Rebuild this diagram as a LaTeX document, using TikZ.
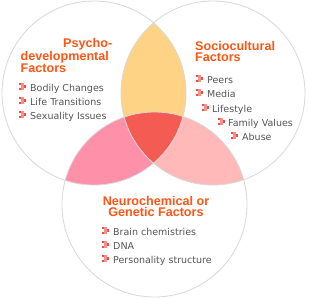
\documentclass[tikz,border=0pt]{standalone}
\usepackage{fontspec}
\setmainfont{Liberation Sans}
\newfontfamily\itemfont{DejaVu Sans}
\definecolor{orangec}{HTML}{FFD385}
\definecolor{pinkc}{HTML}{FF90A9}
\definecolor{salmonc}{HTML}{FFB9B8}
\definecolor{redc}{HTML}{F45B52}
\definecolor{ringc}{HTML}{D8D8D8}
\definecolor{titlec}{HTML}{FF5514}
\definecolor{itemc}{HTML}{555555}
\definecolor{buldark}{HTML}{EE4B45}
\definecolor{bullight}{HTML}{F8908B}
\begin{document}
\begin{tikzpicture}[x=1pt,y=-1pt,
  ttl/.style={anchor=base west,inner sep=0,text=titlec,font=\fontsize{12.6}{11.2}\selectfont\bfseries},
  itm/.style={anchor=base west,inner sep=0,text=itemc,font=\itemfont\fontsize{9.5}{11}\selectfont},
  ring/.style={draw=ringc,line width=0.8pt},
  pics/bul/.style={code={
    \fill[buldark] (0,-8) rectangle (2.33,-5.67);
    \fill[bullight] (2.33,-8) rectangle (4.67,-5.67);
    \fill[bullight] (2.33,-5.67) rectangle (4.67,-3.33);
    \fill[buldark] (4.67,-5.67) rectangle (7,-3.33);
    \fill[buldark] (0,-3.33) rectangle (2.33,-1);
    \fill[bullight] (2.33,-3.33) rectangle (4.67,-1);
  }}]
\useasboundingbox (0,0) rectangle (309,298);
\fill[white] (0,0) rectangle (309,298);
\coordinate (L) at (94,93);
\coordinate (R) at (213,93);
\coordinate (B) at (154.5,204.5);
% lens fills
\begin{scope}\clip (L) circle[radius=92pt]; \fill[orangec] (R) circle[radius=92pt]; \end{scope}
\begin{scope}\clip (L) circle[radius=92pt]; \fill[pinkc] (B) circle[radius=92.5pt]; \end{scope}
\begin{scope}\clip (R) circle[radius=92pt]; \fill[salmonc] (B) circle[radius=92.5pt]; \end{scope}
\begin{scope}\clip (L) circle[radius=92pt]; \clip (R) circle[radius=92pt]; \fill[redc] (B) circle[radius=92.5pt]; \end{scope}
% outlines
\draw[ring] (L) circle[radius=92pt];
\draw[ring] (R) circle[radius=92pt];
\draw[ring] (B) circle[radius=92.5pt];
% Psycho-developmental
\node[ttl,align=left] (p1) at (20.5,72.4) {\hspace*{42.5pt}Psycho-\\developmental\\Factors};
\pic at (19,91) {bul}; \node[itm] (pa) at (30,91) {Bodily Changes};
\pic at (19,105) {bul}; \node[itm] (pb) at (30,105) {Life Transitions};
\pic at (19,119) {bul}; \node[itm] (pc) at (30,119) {Sexuality Issues};
% Sociocultural
\node[ttl,align=left] (s1) at (195,61.7) {Sociocultural\\Factors};
\pic at (196,83) {bul}; \node[itm] (sa) at (207,83) {Peers};
\pic at (196,97) {bul}; \node[itm] (sb) at (207,97) {Media};
\pic at (202,112) {bul}; \node[itm] (sc) at (212,112) {Lifestyle};
\pic at (218,126) {bul}; \node[itm] (sd) at (228,126) {Family Values};
\pic at (231,140) {bul}; \node[itm] (se) at (242,140) {Abuse};
% Neurochemical
\node[ttl,anchor=base,align=center] (n1) at (156,216.7) {Neurochemical or\\Genetic Factors};
\pic at (102,235) {bul}; \node[itm] (na) at (113,235) {Brain chemistries};
\pic at (102,249) {bul}; \node[itm] (nb) at (113,249) {DNA};
\pic at (102,263) {bul}; \node[itm] (nc) at (113,263) {Personality structure};
\end{tikzpicture}
\end{document}
